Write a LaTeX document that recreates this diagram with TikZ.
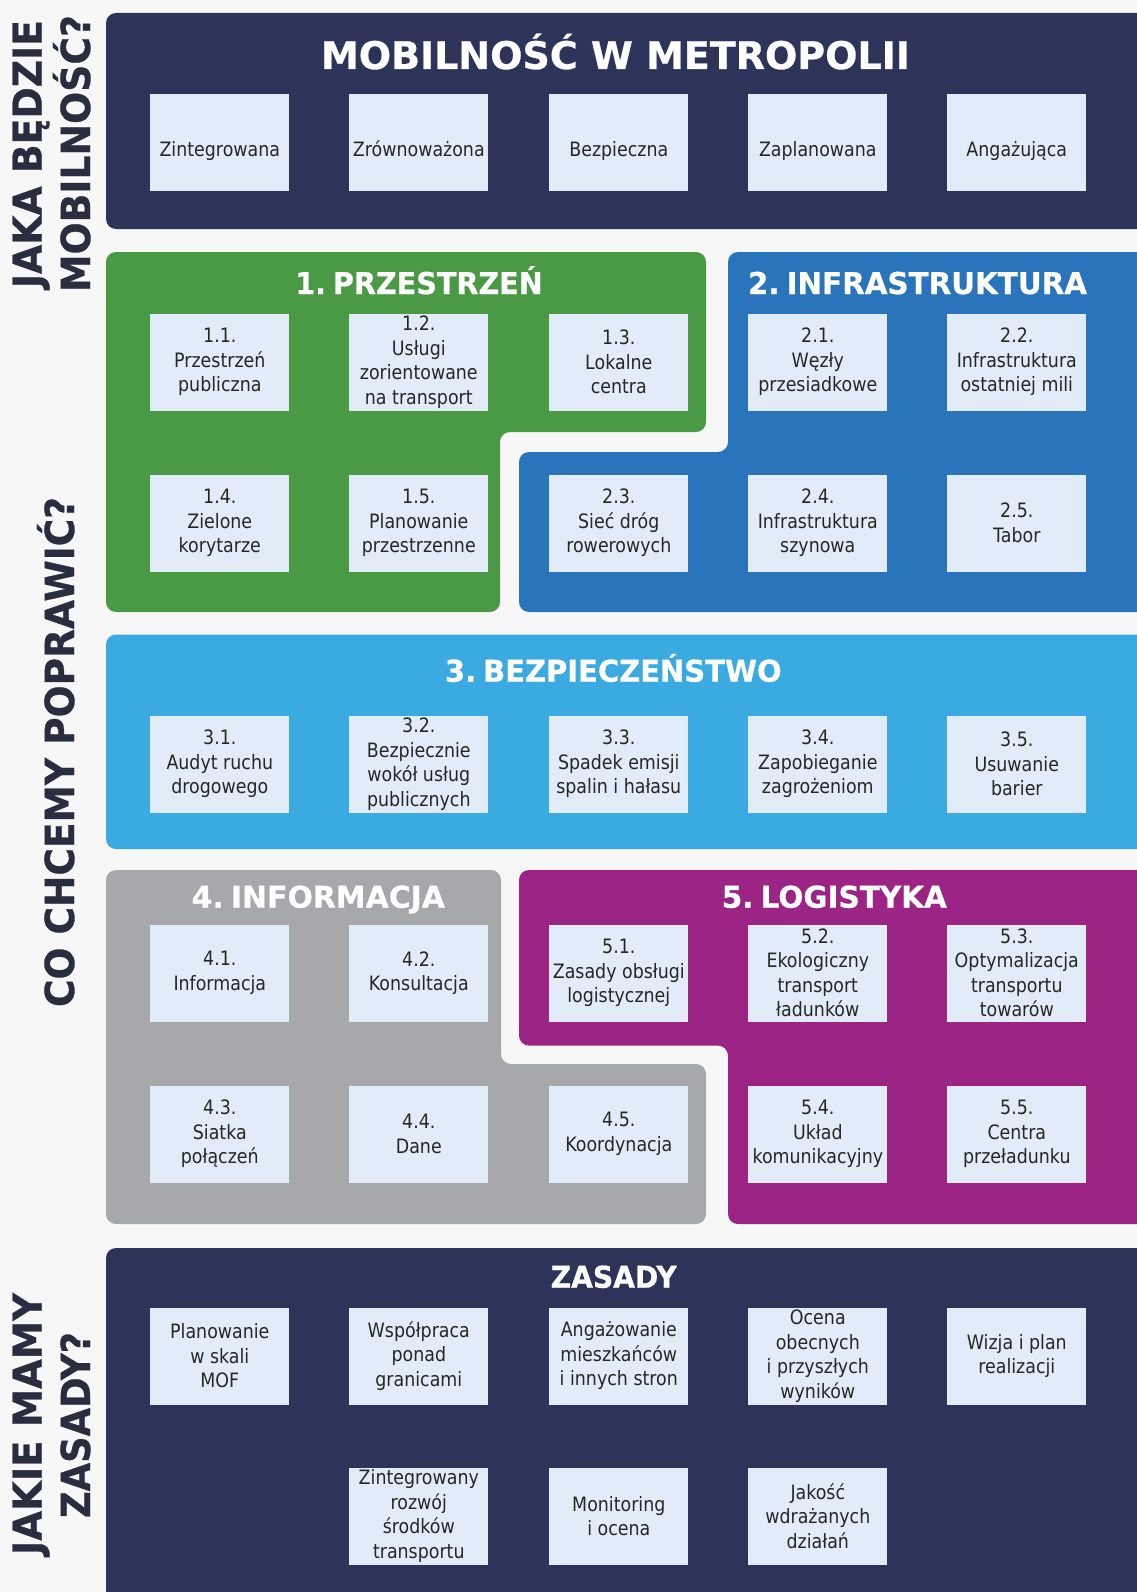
\documentclass[tikz,border=0pt]{standalone}
\usepackage{fontspec}
\usepackage{graphicx}
\setmainfont{DejaVu Sans}
\newfontfamily\boxfont{DejaVu Sans}[FakeStretch=0.88]
\newfontfamily\hfont{DejaVu Sans Bold}[FakeBold=0.7]
\definecolor{bgc}{HTML}{F7F7F8}
\definecolor{navy}{HTML}{2E3359}
\definecolor{grn}{HTML}{4A9944}
\definecolor{blu}{HTML}{2A74BB}
\definecolor{lblu}{HTML}{3AAAE1}
\definecolor{gry}{HTML}{A7A8AC}
\definecolor{pur}{HTML}{9C2484}
\definecolor{boxc}{HTML}{E2ECF8}
\definecolor{txt}{HTML}{262626}
\definecolor{sidec}{HTML}{2A2D40}
\newcommand\fitw[2]{\sbox0{#2}\pgfmathsetmacro\fitsx{#1/\the\wd0}\scalebox{\fitsx}[1]{\usebox0}}
\newcommand\hs{\hspace{0.24em}}
\tikzset{
  sbox/.style={fill=boxc, minimum width=139pt, minimum height=97pt, inner sep=0pt,
    align=center, text=txt, font=\boxfont\fontsize{19.8}{24.5}\selectfont},
  lowtext/.style={text height=32pt, text depth=4pt},
  head/.style={anchor=base, text=white, inner sep=0pt, font=\hfont\fontsize{30}{36}\selectfont},
  bigtitle/.style={anchor=base, text=white, inner sep=0pt, font=\hfont\fontsize{38}{44}\selectfont},
  side/.style={rotate=90, anchor=base, text=sidec, inner sep=0pt, font=\hfont\fontsize{40}{48}\selectfont},
  panel/.style={rounded corners=10pt}
}
\begin{document}
\begin{tikzpicture}[x=1pt,y=-1pt]
\useasboundingbox (0,0) rectangle (1137,1592);
\fill[bgc] (0,0) rectangle (1137,1592);
\clip (0,0) rectangle (1137,1592);
% panels
\fill[navy,panel] (106,13) rectangle (1160,229);
\fill[grn,panel] (106,252) -- (706,252) -- (706,432) -- (500,432) -- (500,612) -- (106,612) -- cycle;
\fill[blu,panel] (728,252) -- (1160,252) -- (1160,612) -- (519,612) -- (519,452) -- (728,452) -- cycle;
\fill[lblu,panel] (106,634.5) rectangle (1160,849);
\fill[gry,panel] (106,870) -- (501,870) -- (501,1064) -- (706,1064) -- (706,1224) -- (106,1224) -- cycle;
\fill[pur,panel] (519,870) -- (1160,870) -- (1160,1224) -- (728,1224) -- (728,1045.6) -- (519,1045.6) -- cycle;
\fill[navy,panel] (106,1248) rectangle (1160,1620);
% side labels
\node[side] (s1a) at (41.7,154) {\fitw{268}{JAKA BĘDZIE}};
\node[side] (s1b) at (90,153.5) {\fitw{277}{MOBILNOŚĆ?}};
\node[side] (s2) at (74,752) {\fitw{510}{CO CHCEMY POPRAWIĆ?}};
\node[side] (s3a) at (41.7,1424) {\fitw{262}{JAKIE MAMY}};
\node[side] (s3b) at (90,1425) {\fitw{186}{ZASADY?}};
% headings
\node[bigtitle] (title) at (615.5,69) {\fitw{589}{MOBILNOŚĆ W METROPOLII}};
\node[head] (h1) at (419,294) {\fitw{247.5}{1.\hs PRZESTRZEŃ}};
\node[head] (h2) at (917.5,294) {\fitw{339}{2.\hs INFRASTRUKTURA}};
\node[head] (h3) at (613.3,681.7) {\fitw{336.7}{3.\hs BEZPIECZEŃSTWO}};
\node[head] (h4) at (318.3,907.7) {\fitw{253.3}{4.\hs INFORMACJA}};
\node[head] (h5) at (834.3,907.7) {\fitw{225}{5.\hs LOGISTYKA}};
\node[head] (h6) at (613.7,1287.7) {\fitw{126}{ZASADY}};
% top row
\node[sbox,lowtext] (m1) at (219.8,142.6) {Zintegrowana};
\node[sbox,lowtext] (m2) at (418.8,142.6) {Zrównoważona};
\node[sbox,lowtext] (m3) at (618.8,142.6) {Bezpieczna};
\node[sbox,lowtext] (m4) at (817.8,142.6) {Zaplanowana};
\node[sbox,lowtext] (m5) at (1016.8,142.6) {Angażująca};
% 1 and 2
\node[sbox] (b11) at (219.8,362) {1.1.\\Przestrzeń\\publiczna};
\node[sbox] (b12) at (418.8,362) {1.2.\\Usługi\\zorientowane\\na transport};
\node[sbox] (b13) at (618.8,362) {1.3.\\Lokalne\\centra};
\node[sbox] (b21) at (817.8,362) {2.1.\\Węzły\\przesiadkowe};
\node[sbox] (b22) at (1016.8,362) {2.2.\\Infrastruktura\\ostatniej mili};
\node[sbox] (b14) at (219.8,523) {1.4.\\Zielone\\korytarze};
\node[sbox] (b15) at (418.8,523) {1.5.\\Planowanie\\przestrzenne};
\node[sbox] (b23) at (618.8,523) {2.3.\\Sieć dróg\\rowerowych};
\node[sbox] (b24) at (817.8,523) {2.4.\\Infrastruktura\\szynowa};
\node[sbox] (b25) at (1016.8,523) {2.5.\\Tabor};
% 3
\node[sbox] (b31) at (219.8,764) {3.1.\\Audyt ruchu\\drogowego};
\node[sbox] (b32) at (418.8,764) {3.2.\\Bezpiecznie\\wokół usług\\publicznych};
\node[sbox] (b33) at (618.8,764) {3.3.\\Spadek emisji\\spalin i hałasu};
\node[sbox] (b34) at (817.8,764) {3.4.\\Zapobieganie\\zagrożeniom};
\node[sbox] (b35) at (1016.8,764) {3.5.\\Usuwanie\\barier};
% 4 and 5
\node[sbox] (b41) at (219.8,973) {4.1.\\Informacja};
\node[sbox] (b42) at (418.8,973) {4.2.\\Konsultacja};
\node[sbox] (b51) at (618.8,973) {5.1.\\Zasady obsługi\\logistycznej};
\node[sbox] (b52) at (817.8,973) {5.2.\\Ekologiczny\\transport\\ładunków};
\node[sbox] (b53) at (1016.8,973) {5.3.\\Optymalizacja\\transportu\\towarów};
\node[sbox] (b43) at (219.8,1134) {4.3.\\Siatka\\połączeń};
\node[sbox] (b44) at (418.8,1134) {4.4.\\Dane};
\node[sbox] (b45) at (618.8,1134) {4.5.\\Koordynacja};
\node[sbox] (b54) at (817.8,1134) {5.4.\\Układ\\komunikacyjny};
\node[sbox] (b55) at (1016.8,1134) {5.5.\\Centra\\przeładunku};
% zasady
\node[sbox] (z1) at (219.8,1356) {Planowanie\\w skali\\MOF};
\node[sbox] (z2) at (418.8,1356) {Współpraca\\ponad\\granicami};
\node[sbox] (z3) at (618.8,1356) {Angażowanie\\mieszkańców\\i innych stron};
\node[sbox] (z4) at (817.8,1356) {Ocena\\obecnych\\i przyszłych\\wyników};
\node[sbox] (z5) at (1016.8,1356) {Wizja i plan\\realizacji};
\node[sbox] (z6) at (418.8,1516) {Zintegrowany\\rozwój\\środków\\transportu};
\node[sbox] (z7) at (618.8,1516) {Monitoring\\i ocena};
\node[sbox] (z8) at (817.8,1516) {Jakość\\wdrażanych\\działań};
\end{tikzpicture}
\end{document}
